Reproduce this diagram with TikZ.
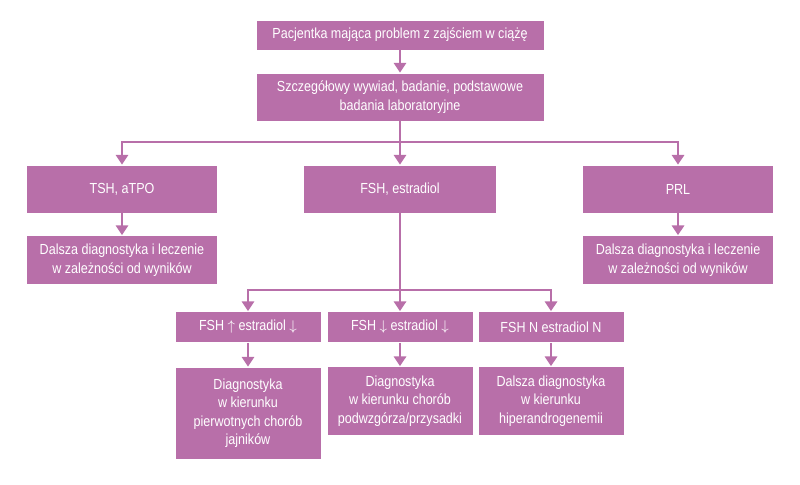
\documentclass[tikz,border=0pt]{standalone}
\usepackage{fontspec}
\setmainfont[FakeStretch=0.86]{Liberation Sans}
\usetikzlibrary{arrows.meta}
\definecolor{plum}{HTML}{B86FA9}

\begin{document}
\begin{tikzpicture}[x=0.02cm, y=-0.02cm,
    box/.style={draw=white, fill=plum, text=white, align=center, inner sep=0pt,
      font=\fontsize{8.3}{10.5}\selectfont},
    link/.style={plum, line width=1.1pt},
    arr/.style={link, -{Triangle[length=5.5pt, width=7pt]}}]
        \useasboundingbox (0,0) rectangle (800,484);
        % top of the chart
        \node[box, minimum width=288*0.02cm, minimum height=30*0.02cm] (start) at (400,35) {Pacjentka mająca problem z zajściem w ciążę};
        \node[box, minimum width=288*0.02cm, minimum height=48*0.02cm] (wywiad) at (400,97) {Szczegółowy wywiad, badanie, podstawowe\\badania laboratoryjne};
        \draw[arr] (start) -- (wywiad);

        % hormone tests
        \node[box, minimum width=191*0.02cm, minimum height=48*0.02cm] (tsh) at (122,189) {TSH, aTPO};
        \node[box, minimum width=193*0.02cm, minimum height=48*0.02cm] (fsh) at (400,189) {FSH, estradiol};
        \node[box, minimum width=191*0.02cm, minimum height=48*0.02cm] (prl) at (678,189) {PRL};
        \coordinate (split) at (400,142);
        \draw[link] (wywiad) -- (split);
        \draw[arr] (split) -| (tsh);
        \draw[arr] (split) -- (fsh);
        \draw[arr] (split) -| (prl);

        \node[box, minimum width=191*0.02cm, minimum height=49*0.02cm] (dalszaL) at (122,260) {Dalsza diagnostyka i leczenie\\w zależności od wyników};
        \node[box, minimum width=191*0.02cm, minimum height=49*0.02cm] (dalszaR) at (678,260) {Dalsza diagnostyka i leczenie\\w zależności od wyników};
        \draw[arr] (tsh) -- (dalszaL);
        \draw[arr] (prl) -- (dalszaR);

        % FSH / estradiol results
        \node[box, minimum width=146*0.02cm, minimum height=31*0.02cm] (wynikA) at (248,327) {FSH $\uparrow$ estradiol $\downarrow$};
        \node[box, minimum width=146*0.02cm, minimum height=31*0.02cm] (wynikB) at (400,327) {FSH $\downarrow$ estradiol $\downarrow$};
        \node[box, minimum width=146*0.02cm, minimum height=31*0.02cm] (wynikC) at (551,327) {FSH N estradiol N};
        \coordinate (split2) at (400,290);
        \draw[link] (fsh) -- (split2);
        \draw[arr] (split2) -| (wynikA);
        \draw[arr] (split2) -- (wynikB);
        \draw[arr] (split2) -| (wynikC);

        \node[box, minimum width=146*0.02cm, minimum height=92*0.02cm] (diagA) at (248,413) {Diagnostyka\\w kierunku\\pierwotnych chorób\\jajników};
        \node[box, minimum width=146*0.02cm, minimum height=69*0.02cm] (diagB) at (400,401) {Diagnostyka\\w kierunku chorób\\podwzgórza/przysadki};
        \node[box, minimum width=146*0.02cm, minimum height=69*0.02cm] (diagC) at (551,401) {Dalsza diagnostyka\\w kierunku\\hiperandrogenemii};
        \draw[arr] (wynikA) -- (diagA);
        \draw[arr] (wynikB) -- (diagB);
        \draw[arr] (wynikC) -- (diagC);
    \end{tikzpicture}
\end{document}
